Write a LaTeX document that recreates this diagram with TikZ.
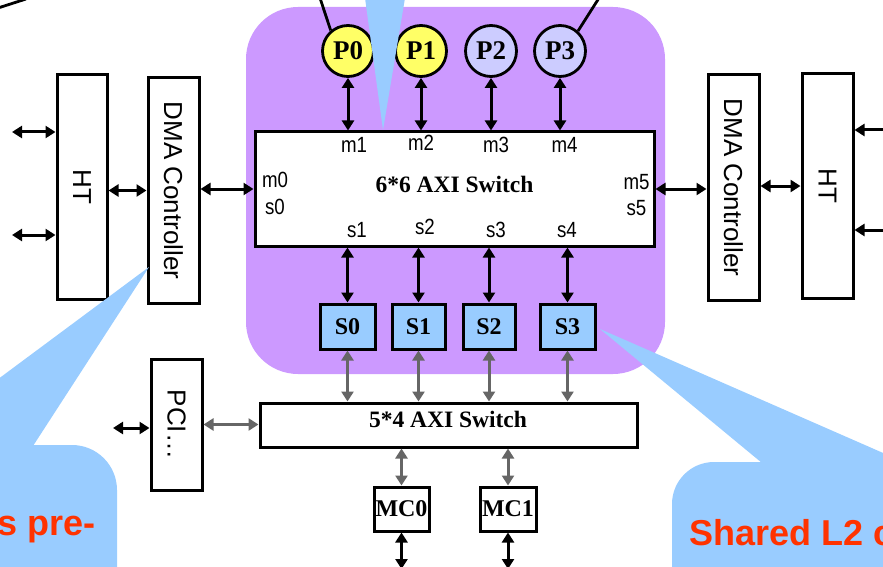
\documentclass[tikz,border=0pt]{standalone}
\usepackage{fontspec}
\setmainfont{Liberation Serif}
\setsansfont{Liberation Sans}
\newfontfamily\portfont[FakeStretch=0.85]{Liberation Sans}
\usetikzlibrary{arrows.meta,calc}
\definecolor{axpurple}{HTML}{CC99FF}
\definecolor{axblue}{HTML}{99CCFF}
\definecolor{axyellow}{HTML}{FFFF66}
\definecolor{axlav}{HTML}{CCCCFF}
\definecolor{axgrey}{HTML}{666666}
\definecolor{axred}{HTML}{FF3300}
\tikzset{
  blk/.style   = {rectangle, draw=black, line width=3pt, fill=white, inner sep=0pt},
  vbox/.style  = {blk, font=\sffamily\fontsize{26}{28}\selectfont},
  swtit/.style = {font=\bfseries\fontsize{23.5}{26}\selectfont, inner sep=0pt},
  proc/.style  = {circle, draw=black, line width=2.8pt, minimum size=51pt,
                  inner sep=0pt, font=\bfseries\fontsize{27}{29}\selectfont},
  slv/.style   = {blk, fill=axblue, minimum height=45pt,
                  font=\bfseries\fontsize{24}{26}\selectfont},
  mc/.style    = {blk, minimum height=44pt, font=\bfseries\fontsize{24}{26}\selectfont},
  port/.style  = {font=\portfont\fontsize{22}{24}\selectfont, inner sep=0pt},
  ed/.style    = {{Triangle[length=10pt,width=12pt]}-{Triangle[length=10pt,width=12pt]},
                  line width=3pt},
  edg/.style   = {ed, draw=axgrey},
  edin/.style  = {-{Triangle[length=10pt,width=12pt]}, line width=3pt},
  lead/.style  = {line width=2.8pt},
  note/.style  = {font=\sffamily\bfseries\fontsize{36}{40}\selectfont, text=axred, inner sep=0pt},
}

\begin{document}
\begin{tikzpicture}[x=1pt,y=-1pt]
  \useasboundingbox (0,0) rectangle (883,567);
  % cluster
  \fill[axpurple, rounded corners=52pt] (246,7) rectangle (665,374);

  % side blocks
  \node[vbox, minimum width=50pt, minimum height=224pt] (htl) at (82,187) {\rotatebox{-90}{HT}};
  \node[vbox, minimum width=51pt, minimum height=225pt] (dmal) at (173.5,190.5) {\rotatebox{-90}{DMA Controller}};
  \node[vbox, minimum width=51pt, minimum height=225pt] (dmar) at (733.5,187.5) {\rotatebox{-90}{DMA Controller}};
  \node[vbox, minimum width=51pt, minimum height=224pt] (htr) at (827.5,186) {\rotatebox{-90}{HT}};
  \node[vbox, minimum width=51pt, minimum height=131pt] (pci) at (176.5,424.5) {\rotatebox{-90}{PCI…}};

  % switches
  \node[blk, minimum width=399pt, minimum height=114pt] (sw6) at (454.5,189) {};
  \node[swtit] (sw6t) at (454.5,184) {6*6 AXI Switch};
  \node[blk, minimum width=377pt, minimum height=44pt] (sw5) at (448.5,425) {};
  \node[swtit] (sw5t) at (448,419) {5*4 AXI Switch};

  % processors, slaves, memory controllers
  \foreach \n/\x/\col in {0/348/axyellow,1/421/axyellow,2/491/axlav,3/560/axlav}
    \node[proc, fill=\col] (p\n) at (\x,51) {P\n};
  \foreach \n/\x/\w in {0/347.5/55,1/418.5/53,2/489/52,3/567.5/55}
    \node[slv, minimum width=\w pt] (s\n) at (\x,326.5) {S\n};
  \node[mc, minimum width=55pt] (mc0) at (401.5,509) {MC0};
  \node[mc, minimum width=56pt] (mc1) at (508,509) {MC1};

  % port labels
  \foreach \t/\x/\y in {m0/275/180, s0/275/207, m1/354/145, m2/421/143, m3/496/145,
                        m4/564.5/145, s1/357/230, s2/425/227, s3/496/230, s4/567/230,
                        m5/636.5/182, s5/636.5/208}
    \node[port] (l\t) at (\x,\y) {\t};

  % links
  \foreach \n in {0,...,3} \draw[ed] (p\n) -- (p\n |- sw6.north);
  \foreach \n in {0,...,3} \draw[ed] (s\n |- sw6.south) -- (s\n);
  \foreach \n in {0,...,3} \draw[edg] (s\n) -- (s\n |- sw5.north);
  \foreach \n in {0,1} \draw[edg] (mc\n |- sw5.south) -- (mc\n);
  \coordinate (mcout) at (0,569);
  \foreach \n in {0,1} \draw[ed] (mc\n) -- (mc\n |- mcout);

  \coordinate (hlt) at (12,132);
  \coordinate (hlb) at (12,235);
  \draw[ed] (hlt) -- (hlt -| htl.west);
  \draw[ed] (hlb) -- (hlb -| htl.west);
  \draw[ed] (htl.east |- dmal.west) -- (dmal.west);
  \draw[ed] (dmal.east |- sw6.west) -- (sw6.west);
  \draw[ed] (sw6.east) -- (sw6.east -| dmar.west);
  \draw[ed] (dmar.east |- htr.west) -- (htr.west);
  \coordinate (hrt) at (890,130);
  \coordinate (hrb) at (890,230);
  \draw[edin] (hrt) -- (hrt -| htr.east);
  \draw[edin] (hrb) -- (hrb -| htr.east);
  \coordinate (pcil) at (113,428);
  \draw[ed] (pcil) -- (pcil -| pci.west);
  \draw[edg] (pci.east) -- (pci.east -| sw5.west);

  % leader lines to the top
  \coordinate (tla) at (-2,8);
  \coordinate (tlb) at (26,-1);
  \draw[lead] (tla) -- (tlb);
  \coordinate (p0top) at (320,-2);
  \coordinate (p3top) at (599,-2);
  \draw[lead] (p0.130) -- (p0top);
  \draw[lead] (p3.48) -- (p3top);

  % callouts
  \fill[axblue] (365,-2) -- (405,-2) -- (383,130) -- cycle;
  \fill[axblue, rounded corners=45pt] (-60,445) rectangle (117,620);
  \fill[axblue] (149,267) -- (33,446) -- (-92,446) -- cycle;
  \fill[axblue, rounded corners=42pt] (672,462) rectangle (960,620);
  \fill[axblue] (600,329) -- (906,463) -- (762,463) -- cycle;
  \node[note, anchor=base east] (notel) at (96,535) {s pre-};
  \node[note, anchor=base west] (noter) at (689,545) {Shared L2 c};
\end{tikzpicture}
\end{document}
